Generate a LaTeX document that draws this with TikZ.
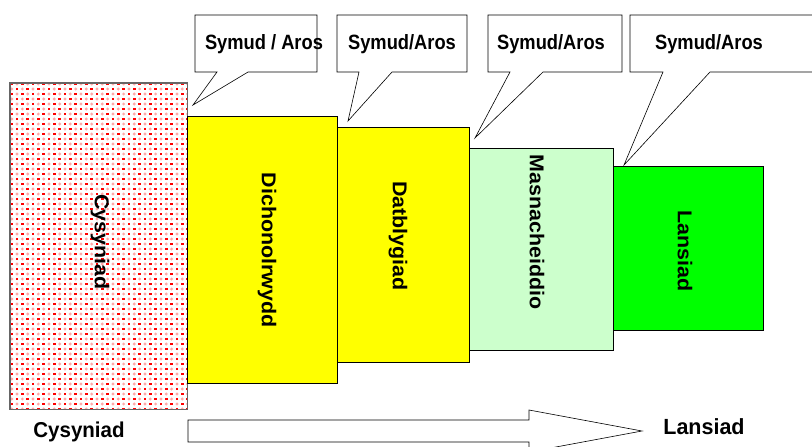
\documentclass[tikz,border=0pt]{standalone}
\usepackage{fontspec}
\setmainfont{Liberation Sans}
\definecolor{ylw}{HTML}{FFFF00}
\definecolor{lgreen}{HTML}{CCFFCC}
\definecolor{bgreen}{HTML}{00FF00}
\definecolor{dotred}{HTML}{FF0000}
\definecolor{dotpink}{HTML}{FFA8A8}
\newcommand{\rottxt}[1]{\scalebox{1.07}[1]{#1}}
\newcommand{\tallsym}[1]{\scalebox{1}[1.13]{#1}}
\begin{document}
\begin{tikzpicture}[x=1pt,y=-1pt,
  stage/.style={draw=black,line width=0.7pt,inner sep=0pt,anchor=north west},
  stagetext/.style={font=\bfseries\fontsize{20}{22}\selectfont,rotate=-90,inner sep=0pt},
  callout/.style={draw=black,fill=white,line width=0.6pt,line join=miter},
  callouttext/.style={font=\bfseries\fontsize{18.3}{20}\selectfont,inner sep=0pt},
  bottomtext/.style={font=\bfseries\fontsize{20.5}{22}\selectfont,inner sep=0pt}]
\useasboundingbox (0,0) rectangle (812,447);
% stage boxes
\node[stage,fill=white,minimum width=177pt,minimum height=326pt] (cys) at (10,83) {};
\begin{scope}
\clip (10,83) rectangle (187,409);
\foreach \j in {0,...,33}{
  \foreach \k in {-1,...,33}{
    \pgfmathsetmacro{\xx}{11.7+5.33*\j}
    \pgfmathsetmacro{\yy}{94+10*\k-5*mod(\j,2)}
    \fill[dotpink] (\xx,\yy+5) circle (1.6);
    \fill[dotred] (\xx-1.4,\yy-1.4) rectangle ++(2.8,2.8);
  }
}
\end{scope}
\draw[draw=black!60,line width=1.3pt] (cys.north west) rectangle (cys.south east);
\node[stage,fill=ylw,minimum width=150pt,minimum height=267pt] (dich) at (187,116) {};
\node[stage,fill=ylw,minimum width=132pt,minimum height=235pt] (datb) at (337,127) {};
\node[stage,fill=lgreen,minimum width=144pt,minimum height=202pt] (masn) at (469,148) {};
\node[stage,fill=bgreen,minimum width=150pt,minimum height=164pt] (lans) at (613,166) {};
% stage labels
\node[stagetext] (tcys) at (100,242) {\rottxt{Cysyniad}};
\node[stagetext] (tdich) at (267,250) {\rottxt{Dichonolrwydd}};
\node[stagetext] (tdatb) at (398,236) {\rottxt{Datblygiad}};
\node[stagetext] (tmasn) at (537,232) {\rottxt{Masnacheiddio}};
\node[stagetext] (tlans) at (685,251) {\rottxt{Lansiad}};
% tips of callouts
\coordinate (p1) at (193,105);
\coordinate (p2) at (348,121);
\coordinate (p3) at (475,138);
\coordinate (p4) at (624,165);
% callouts
\draw[callout] (195,15) -- (317,15) -- (317,72) -- (248,72) -- (p1) -- (217,72) -- (195,72) -- cycle;
\draw[callout] (337,15) -- (467,15) -- (467,72) -- (392,72) -- (p2) -- (359,72) -- (337,72) -- cycle;
\draw[callout] (488,15) -- (622,15) -- (622,72) -- (543,72) -- (p3) -- (510,72) -- (488,72) -- cycle;
\draw[callout] (630,15) -- (830,15) -- (830,72) -- (710,72) -- (p4) -- (663,72) -- (630,72) -- cycle;
\node[callouttext] (c1) at (264,44) {\tallsym{Symud / Aros}};
\node[callouttext] (c2) at (402,44) {\tallsym{Symud/Aros}};
\node[callouttext] (c3) at (551,44) {\tallsym{Symud/Aros}};
\node[callouttext] (c4) at (709,44) {\tallsym{Symud/Aros}};
% bottom arrow
\draw[black,line width=0.6pt,fill=white] (188,420) -- (529,420) -- (529,410) -- (642,431) -- (529,452) -- (529,442) -- (188,442) -- cycle;
\node[bottomtext] (bcys) at (79,432) {\scalebox{1}[1.05]{Cysyniad}};
\node[bottomtext,font=\bfseries\fontsize{21.5}{23}\selectfont] (blans) at (704,427) {\scalebox{1}[1.02]{Lansiad}};
\end{tikzpicture}
\end{document}
